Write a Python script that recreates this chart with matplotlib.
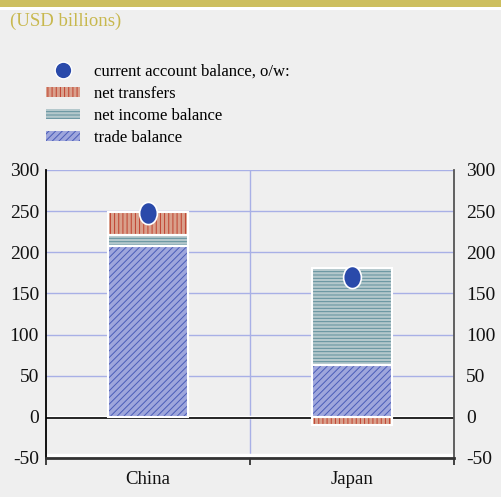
import matplotlib
matplotlib.use("Agg")
import matplotlib.pyplot as plt
from matplotlib.patches import Patch, Rectangle
from matplotlib.lines import Line2D
from matplotlib.markers import MarkerStyle
from matplotlib.transforms import Affine2D, offset_copy

categories = ["China", "Japan"]
trade_balance = [208, 63]
net_income = [13, 118]
net_transfers = [28, -10]
current_account = [248, 170]
yticks = [-50, 0, 50, 100, 150, 200, 250, 300]

plt.rcParams['font.family'] = ['Liberation Serif', 'DejaVu Serif']
plt.rcParams['hatch.linewidth'] = 0.7

BG = '#efefef'
fig = plt.figure(figsize=(5.01, 4.97), dpi=100, facecolor=BG)
fig.patches.append(Rectangle((0, 1 - 7/497), 1, 7/497, transform=fig.transFigure,
                             facecolor='#cdbf5f', edgecolor='none', zorder=0))
fig.patches.append(Rectangle((0, 1 - 10/497), 1, 3/497, transform=fig.transFigure,
                             facecolor='white', edgecolor='none', zorder=0))
fig.text(10/501, 1 - 21/497, "(USD billions)", color='#c8b84e', fontsize=13.5,
         va='center', ha='left')

ax = fig.add_axes([46/501, 1 - 458/497, 408/501, 288/497])
ax.set_facecolor(BG)

x = list(range(len(categories)))
w = 0.39
C_TRADE, H_TRADE = '#9ea6dc', '#4a5cb8'
C_INC, H_INC = '#b4c8cc', '#5f8f9c'
C_TR, H_TR = '#d9a08c', '#c0402e'

def stacked(vals, bottoms, fc, hc, hatch):
    ax.bar(x, vals, w, bottom=bottoms, color=fc, edgecolor=hc, hatch=hatch,
           linewidth=0, zorder=3)
    ax.bar(x, vals, w, bottom=bottoms, fill=False, edgecolor='white',
           linewidth=1.5, zorder=4)

pos_bottom = [0, 0]
stacked(trade_balance, pos_bottom, C_TRADE, H_TRADE, '/////')
inc_bottom = [trade_balance[i] for i in x]
stacked(net_income, inc_bottom, C_INC, H_INC, '-----')
tr_bottom = [trade_balance[i] + net_income[i] if net_transfers[i] >= 0 else 0 for i in x]
stacked(net_transfers, tr_bottom, C_TR, H_TR, '||||')

oval = MarkerStyle('o', transform=Affine2D().scale(0.8, 1.0))
ax.plot(x, current_account, linestyle='none', marker=oval, markersize=16,
        markerfacecolor='#2a4aaa', markeredgecolor='white', markeredgewidth=1.2,
        zorder=6)

ax.set_xlim(-0.5, 1.5)
ax.set_ylim(-50, 300)
ax.set_yticks(yticks)
ax.set_yticklabels([str(v) for v in yticks])
for v in yticks[2:]:
    ax.axhline(v, color='#a8b0e6', lw=1, zorder=1)
ax.axvline(0.5, color='#a8b0e6', lw=1, zorder=1)

# zero line: white above, black below
ax.axhline(0, color='white', lw=2.5, zorder=2)
ax.plot([0, 1], [0, 0], color='black', lw=1.2, zorder=2,
        transform=offset_copy(ax.get_yaxis_transform(), fig=fig, x=0, y=-1.5, units='dots'))
ax.plot([0, 1], [-50, -50], color='white', lw=2.5, zorder=2,
        transform=offset_copy(ax.get_yaxis_transform(), fig=fig, x=0, y=3, units='dots'))

ax.spines['top'].set_visible(False)
ax.spines['left'].set_color('black')
ax.spines['right'].set_color('#555555')
ax.spines['bottom'].set_color('#333333')
ax.spines['bottom'].set_linewidth(2)
ax.spines['left'].set_linewidth(1.3)
ax.spines['right'].set_linewidth(1.3)

ax.tick_params(axis='y', which='both', length=0, labelsize=14, left=True, right=True,
               labelleft=True, labelright=True, colors='#111111')
for t in ax.yaxis.get_major_ticks():
    t.set_pad(5)
ax.set_xticks([-0.5, 0.5, 1.5])
ax.set_xticklabels(['', '', ''])
ax.tick_params(axis='x', length=5, width=1.3, color='#333333', direction='out')
for i, c in enumerate(categories):
    ax.text(x[i], -0.045, c, transform=ax.get_xaxis_transform(), ha='center',
            va='top', fontsize=13.5, color='#111111')
# push right labels a bit further out
for lab in ax.get_yticklabels(which='major', minor=False):
    pass
for t in ax.yaxis.get_major_ticks():
    t.label2.set_transform(t.label2.get_transform() +
                           Affine2D().translate(5, 0))

# legend
handles = [
    Line2D([], [], linestyle='none', marker='o', markersize=12,
           markerfacecolor='#2a4aaa', markeredgecolor='white'),
    Patch(facecolor=C_TR, edgecolor=H_TR, hatch='||||', linewidth=0),
    Patch(facecolor=C_INC, edgecolor=H_INC, hatch='-----', linewidth=0),
    Patch(facecolor=C_TRADE, edgecolor=H_TRADE, hatch='/////', linewidth=0),
]
labels = ["current account balance, o/w:", "net transfers", "net income balance", "trade balance"]
fig.legend(handles, labels, loc='upper left', bbox_to_anchor=(38/501, 1 - 55/497),
           frameon=False, fontsize=12, handlelength=2.0, handleheight=0.55,
           labelspacing=0.38, handletextpad=0.85, borderpad=0)

fig.savefig("out.png", dpi=100, facecolor=BG)
